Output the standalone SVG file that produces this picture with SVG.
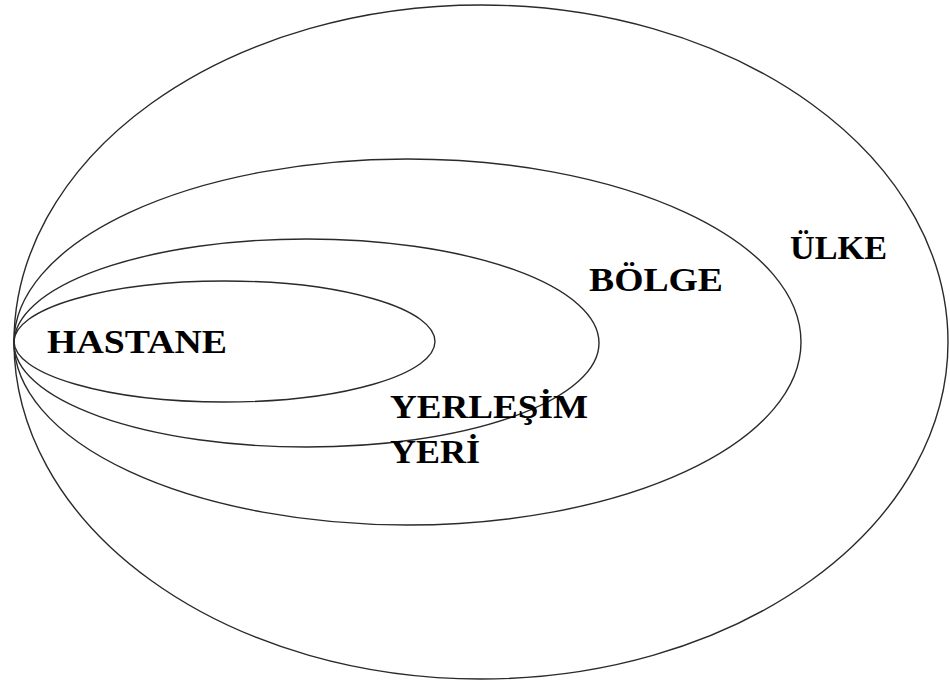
<svg xmlns="http://www.w3.org/2000/svg" width="950" height="681" viewBox="0 0 950 681">
<style>
.e{fill:none;stroke:#2a2a2a;stroke-width:1.4}
.t{font-family:"Liberation Serif","Times New Roman",serif;font-weight:bold;font-size:33px;fill:#000}
</style>
<rect width="950" height="681" fill="#fff"/>
<g id="ulke">
<ellipse class="e" cx="481" cy="342" rx="467" ry="337"/>
<text class="t" x="790" y="259" textLength="97" lengthAdjust="spacingAndGlyphs">ÜLKE</text>
</g>
<g id="bolge">
<ellipse class="e" cx="407.5" cy="342" rx="393.5" ry="183"/>
<text class="t" x="589" y="291" textLength="134" lengthAdjust="spacingAndGlyphs">BÖLGE</text>
</g>
<g id="yerlesim">
<ellipse class="e" cx="306.5" cy="343" rx="292.5" ry="104"/>
<text class="t" x="390" y="418" textLength="198" lengthAdjust="spacingAndGlyphs">YERLEŞİM</text>
<text class="t" x="390" y="463" textLength="90" lengthAdjust="spacingAndGlyphs">YERİ</text>
</g>
<g id="hastane">
<ellipse class="e" cx="224.5" cy="341.5" rx="210.5" ry="60.5"/>
<text class="t" x="47" y="353" textLength="180" lengthAdjust="spacingAndGlyphs">HASTANE</text>
</g>
<g id="connectors"></g>
</svg>
